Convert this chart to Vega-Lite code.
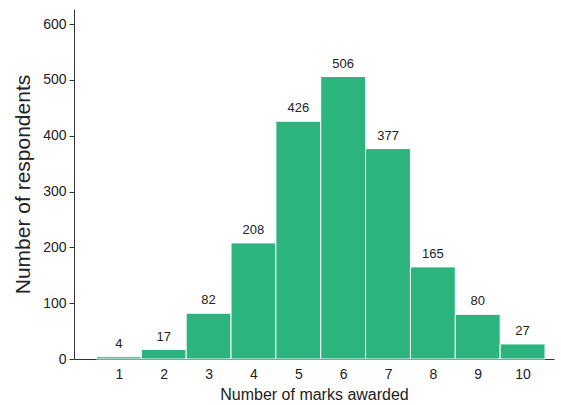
{
  "$schema": "https://vega.github.io/schema/vega-lite/v6.json",
  "width": 480,
  "height": 350,
  "autosize": "none",
  "padding": {"left": 74, "top": 9, "right": 7, "bottom": 46},
  "background": "white",
  "config": {
    "view": {"stroke": null},
    "font": "Liberation Sans",
    "axis": {"grid": false, "domainColor": "#333333", "tickColor": "#333333", "labelColor": "#222222", "titleColor": "#222222", "labelFont": "Liberation Sans", "titleFont": "Liberation Sans", "titleFontWeight": "normal"}
  },
  "data": {"values": [
    {"marks": 1, "respondents": 4},
    {"marks": 2, "respondents": 17},
    {"marks": 3, "respondents": 82},
    {"marks": 4, "respondents": 208},
    {"marks": 5, "respondents": 426},
    {"marks": 6, "respondents": 506},
    {"marks": 7, "respondents": 377},
    {"marks": 8, "respondents": 165},
    {"marks": 9, "respondents": 80},
    {"marks": 10, "respondents": 27}
  ]},
  "transform": [
    {"calculate": "datum.marks - 0.5", "as": "lo"},
    {"calculate": "datum.marks + 0.5", "as": "hi"}
  ],
  "layer": [
    {
      "mark": {"type": "rect", "color": "#2bb47d", "stroke": "white", "strokeWidth": 1},
      "encoding": {
        "x": {"field": "lo", "type": "quantitative", "scale": {"domain": [0, 10.7], "nice": false, "zero": false},
              "axis": {"values": [1,2,3,4,5,6,7,8,9,10], "ticks": false, "labelFontSize": 14, "labelPadding": 8, "title": "Number of marks awarded", "titleFontSize": 16, "titlePadding": 5}},
        "x2": {"field": "hi"},
        "y": {"field": "respondents", "type": "quantitative", "scale": {"domain": [0, 627], "nice": false},
              "axis": {"values": [0,100,200,300,400,500,600], "tickSize": 5, "labelFontSize": 14, "labelPadding": 3, "title": "Number of respondents", "titleFontSize": 21, "titlePadding": 9}}
      }
    },
    {
      "mark": {"type": "text", "baseline": "alphabetic", "dy": -9, "fontSize": 13, "color": "#222222"},
      "encoding": {
        "x": {"field": "marks", "type": "quantitative"},
        "y": {"field": "respondents", "type": "quantitative"},
        "text": {"field": "respondents", "type": "quantitative"}
      }
    }
  ]
}
